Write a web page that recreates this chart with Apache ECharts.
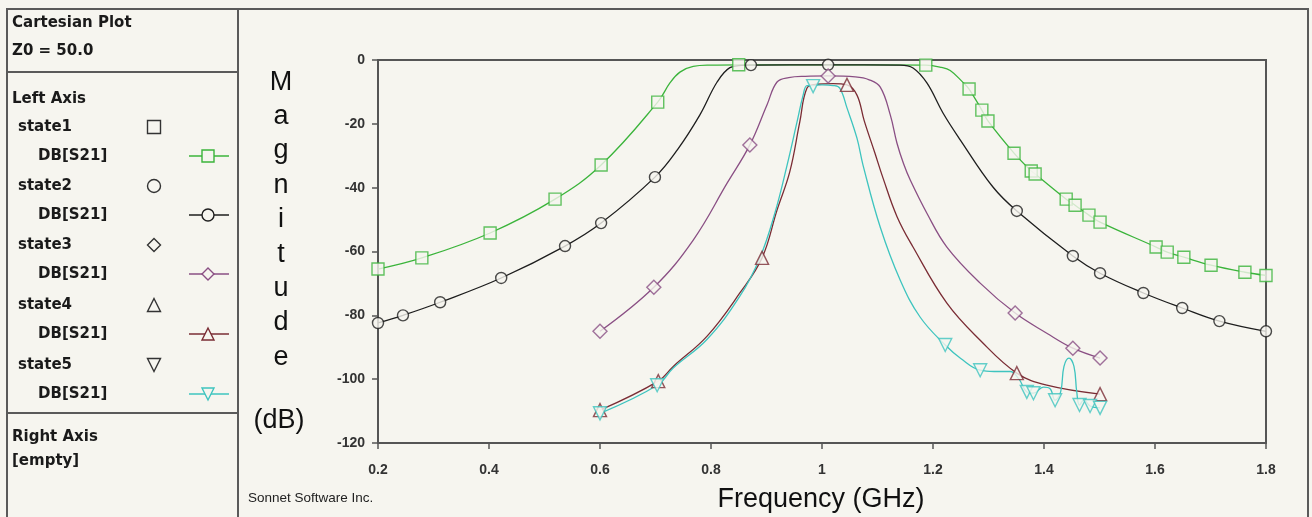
<!DOCTYPE html>
<html><head><meta charset="utf-8">
<script src="https://cdn.jsdelivr.net/npm/echarts@6/dist/echarts.min.js"></script>
<style>html,body{margin:0;padding:0;background:#f6f5ef;}#c{width:1312px;height:517px;}</style>
</head><body><div id="c"></div>
<script>
// ---- data (frequency GHz, magnitude dB) ----
const xTickValues = [0.2, 0.4, 0.6, 0.8, 1.0, 1.2, 1.4, 1.6, 1.8];
const yTickValues = [0, -20, -40, -60, -80, -100, -120];
const stateNames = ['state1', 'state2', 'state3', 'state4', 'state5'];
const traceName = 'DB[S21]';

const s1Curve = [[0.2,-65.5],[0.279,-62],[0.402,-54.2],[0.519,-43.6],[0.602,-32.9],[0.704,-13.2],[0.726,-7.2],[0.744,-3.8],[0.768,-2.0],[0.80,-1.6],[0.85,-1.5],[1.0,-1.5],[1.187,-1.6],[1.215,-2.3],[1.231,-3.3],[1.254,-7.0],[1.265,-9.1],[1.288,-15.7],[1.299,-19.1],[1.346,-29.2],[1.377,-34.8],[1.384,-35.7],[1.440,-43.6],[1.456,-45.5],[1.481,-48.6],[1.501,-50.8],[1.602,-58.6],[1.622,-60.2],[1.652,-61.8],[1.701,-64.3],[1.762,-66.5],[1.8,-67.5]];
const s1Marks = [[0.2,-65.5],[0.279,-62],[0.402,-54.2],[0.519,-43.6],[0.602,-32.9],[0.704,-13.2],[0.850,-1.5],[1.187,-1.6],[1.265,-9.1],[1.288,-15.7],[1.299,-19.1],[1.346,-29.2],[1.377,-34.8],[1.384,-35.7],[1.440,-43.6],[1.456,-45.5],[1.481,-48.6],[1.501,-50.8],[1.602,-58.6],[1.622,-60.2],[1.652,-61.8],[1.701,-64.3],[1.762,-66.5],[1.8,-67.5]];

const s2Curve = [[0.2,-82.4],[0.245,-80],[0.312,-75.9],[0.422,-68.3],[0.537,-58.3],[0.602,-51.1],[0.699,-36.7],[0.74,-28],[0.78,-17.2],[0.811,-6.9],[0.834,-2.4],[0.855,-1.7],[0.872,-1.6],[1.011,-1.5],[1.14,-1.6],[1.164,-2.5],[1.189,-7.2],[1.218,-16.6],[1.249,-25],[1.308,-39.8],[1.351,-47.3],[1.452,-61.4],[1.501,-66.8],[1.579,-73],[1.649,-77.7],[1.716,-81.8],[1.8,-85]];
const s2Marks = [[0.2,-82.4],[0.245,-80],[0.312,-75.9],[0.422,-68.3],[0.537,-58.3],[0.602,-51.1],[0.699,-36.7],[0.872,-1.6],[1.011,-1.5],[1.351,-47.3],[1.452,-61.4],[1.501,-66.8],[1.579,-73],[1.649,-77.7],[1.716,-81.8],[1.8,-85]];

const s3Curve = [[0.6,-85],[0.697,-71.2],[0.768,-56.4],[0.829,-38.6],[0.870,-26.6],[0.901,-14],[0.919,-6.9],[0.94,-5.5],[0.97,-5.1],[1.011,-5.0],[1.06,-5.3],[1.085,-6.2],[1.105,-8.5],[1.123,-17.2],[1.135,-26],[1.147,-32.5],[1.159,-37.6],[1.189,-48],[1.225,-58.6],[1.285,-69.9],[1.348,-79.3],[1.405,-85.6],[1.452,-90.3],[1.501,-93.4]];
const s3Marks = [[0.6,-85],[0.697,-71.2],[0.870,-26.6],[1.011,-5.0],[1.348,-79.3],[1.452,-90.3],[1.501,-93.4]];

const s4Curve = [[0.6,-109.7],[0.705,-100.6],[0.732,-96],[0.793,-86.5],[0.852,-73],[0.892,-62],[0.919,-47],[0.942,-35],[0.960,-19.4],[0.973,-8.8],[0.99,-7.6],[1.02,-7.4],[1.045,-7.8],[1.063,-11],[1.076,-19],[1.095,-29],[1.110,-37],[1.135,-49],[1.164,-58.6],[1.225,-76.2],[1.285,-87.8],[1.351,-98.1],[1.405,-101.9],[1.501,-104.7]];
const s4Marks = [[0.6,-109.7],[0.705,-100.6],[0.892,-62],[1.045,-7.8],[1.351,-98.1],[1.501,-104.7]];

const s5Curve = [[0.6,-110.7],[0.703,-101.9],[0.732,-96.5],[0.793,-87.5],[0.852,-74],[0.888,-62],[0.915,-48],[0.937,-33],[0.955,-19.4],[0.966,-11],[0.973,-8],[0.984,-8],[1.0,-7.8],[1.02,-8],[1.032,-8.8],[1.045,-15],[1.063,-24.5],[1.074,-33],[1.105,-52.4],[1.141,-69],[1.177,-80.6],[1.222,-89.3],[1.25,-93.5],[1.285,-97.2],[1.31,-97.6],[1.339,-97.6],[1.355,-100],[1.369,-104],[1.381,-104.4],[1.399,-102.5],[1.411,-103],[1.420,-106.6],[1.43,-104],[1.436,-96],[1.445,-93.4],[1.454,-96],[1.459,-104],[1.464,-108.1],[1.472,-106.5],[1.483,-108.4],[1.501,-109]];
const s5Marks = [[0.6,-110.7],[0.703,-101.9],[0.984,-8.2],[1.222,-89.3],[1.285,-97.2],[1.369,-104],[1.381,-104.4],[1.420,-106.6],[1.464,-108.1],[1.483,-108.4],[1.501,-109]];

// ---- styles ----
const BG = '#f6f5ef';
const colors = ['#3bb43b', '#1e1e1e', '#8a4f84', '#7a2c34', '#3ec4bf'];
const symbols = ['rect', 'circle', 'diamond', 'triangle', 'triangle'];
const symRot = [0, 0, 0, 0, 180];
const symSize = [12, 11, 14, 13, 13];
const curves = [s1Curve, s2Curve, s3Curve, s4Curve, s5Curve];
const marks = [s1Marks, s2Marks, s3Marks, s4Marks, s5Marks];

const series = [];
curves.forEach((c, i) => series.push({
  type: 'line', data: c, showSymbol: false, smooth: 0.4,
  lineStyle: { color: colors[i], width: 1.3 }, z: 2, animation: false, silent: true
}));
marks.forEach((m, i) => series.push({
  type: 'scatter', data: m, symbol: symbols[i], symbolRotate: symRot[i], symbolSize: symSize[i],
  itemStyle: { color: BG, borderColor: colors[i], borderWidth: 1.4 }, z: 3, animation: false, silent: true
}));

// ---- legend panel graphics ----
const legendFont = 'bold 15px "DejaVu Sans", sans-serif';
const g = [];
g.push({ type: 'rect', shape: { x: 7, y: 9, width: 231, height: 520 }, style: { fill: 'none', stroke: '#5a5a5a', lineWidth: 2 } });
g.push({ type: 'rect', shape: { x: 238, y: 9, width: 1070, height: 520 }, style: { fill: 'none', stroke: '#5a5a5a', lineWidth: 2 } });
g.push({ type: 'line', shape: { x1: 7, y1: 72, x2: 238, y2: 72 }, style: { stroke: '#5a5a5a', lineWidth: 2 } });
g.push({ type: 'line', shape: { x1: 7, y1: 413, x2: 238, y2: 413 }, style: { stroke: '#5a5a5a', lineWidth: 2 } });
function txt(t, x, y, font, align) {
  g.push({ type: 'text', x: x, y: y, style: { text: t, font: font, fill: '#1a1a1a', textAlign: align || 'left', textVerticalAlign: 'middle' } });
}
txt('Cartesian Plot', 12, 23, legendFont);
txt('Z0 = 50.0', 12, 51, legendFont);
txt('Left Axis', 12, 99, legendFont);
txt('Right Axis', 12, 437, legendFont);
txt('[empty]', 12, 461, legendFont);

function sym(kind, rot, cx, cy, s, stroke) {
  const st = { fill: BG, stroke: stroke, lineWidth: 1.4 };
  if (kind === 'rect') g.push({ type: 'rect', shape: { x: cx - s / 2, y: cy - s / 2, width: s, height: s }, style: st });
  else if (kind === 'circle') g.push({ type: 'circle', shape: { cx: cx, cy: cy, r: s / 2 }, style: st });
  else if (kind === 'diamond') g.push({ type: 'polygon', shape: { points: [[cx, cy - s / 2], [cx + s / 2, cy], [cx, cy + s / 2], [cx - s / 2, cy]] }, style: st });
  else if (rot === 0) g.push({ type: 'polygon', shape: { points: [[cx, cy - s / 2], [cx + s / 2, cy + s / 2], [cx - s / 2, cy + s / 2]] }, style: st });
  else g.push({ type: 'polygon', shape: { points: [[cx, cy + s / 2], [cx + s / 2, cy - s / 2], [cx - s / 2, cy - s / 2]] }, style: st });
}
const rowY = [127, 186, 245, 305, 365];
stateNames.forEach((n, i) => {
  const y = rowY[i];
  txt(n, 18, y, legendFont);
  sym(symbols[i], symRot[i], 154, y, 13, '#333');
  txt(traceName, 38, y + 29, legendFont);
  g.push({ type: 'line', shape: { x1: 189, y1: y + 29, x2: 229, y2: y + 29 }, style: { stroke: colors[i], lineWidth: 1.4 } });
  sym(symbols[i], symRot[i], 208, y + 29, 12, colors[i]);
});

// axis titles
g.push({ type: 'text', x: 281, y: 65, style: { text: 'M\na\ng\nn\ni\nt\nu\nd\ne', font: '27px "Liberation Sans", Arial, sans-serif', fill: '#111', textAlign: 'center', lineHeight: 34.4 } });
g.push({ type: 'text', x: 279, y: 421, style: { text: '(dB)', font: '27px "Liberation Sans", Arial, sans-serif', fill: '#111', textAlign: 'center', textVerticalAlign: 'middle' } });
g.push({ type: 'text', x: 821, y: 500, style: { text: 'Frequency (GHz)', font: '27px "Liberation Sans", Arial, sans-serif', fill: '#111', textAlign: 'center', textVerticalAlign: 'middle' } });
g.push({ type: 'text', x: 248, y: 498, style: { text: 'Sonnet Software Inc.', font: '13.5px "Liberation Sans", Arial, sans-serif', fill: '#222', textVerticalAlign: 'middle' } });

const chart = echarts.init(document.getElementById('c'), null, { renderer: 'canvas' });
chart.setOption({
  backgroundColor: BG,
  animation: false,
  grid: { left: 378, right: 46, top: 60, bottom: 74, show: true, borderColor: '#555', borderWidth: 2, backgroundColor: 'transparent' },
  xAxis: {
    type: 'value', min: xTickValues[0], max: xTickValues[xTickValues.length - 1], interval: 0.2,
    axisLine: { show: true, onZero: false, lineStyle: { color: '#555', width: 2 } },
    axisTick: { show: true, inside: false, length: 6, lineStyle: { color: '#555', width: 1.5 } },
    axisLabel: { margin: 20, color: '#333', fontWeight: 'bold', fontSize: 14, fontFamily: '"Liberation Sans", Arial, sans-serif', formatter: v => String(+v.toFixed(1)) },
    splitLine: { show: false }
  },
  yAxis: {
    type: 'value', min: yTickValues[yTickValues.length - 1], max: yTickValues[0], interval: 20,
    axisLine: { show: true, onZero: false, lineStyle: { color: '#555', width: 2 } },
    axisTick: { show: true, inside: false, length: 6, lineStyle: { color: '#555', width: 1.5 } },
    axisLabel: { margin: 13, color: '#333', fontWeight: 'bold', fontSize: 14, fontFamily: '"Liberation Sans", Arial, sans-serif' },
    splitLine: { show: false }
  },
  graphic: g,
  series: series
});
</script>
</body></html>
